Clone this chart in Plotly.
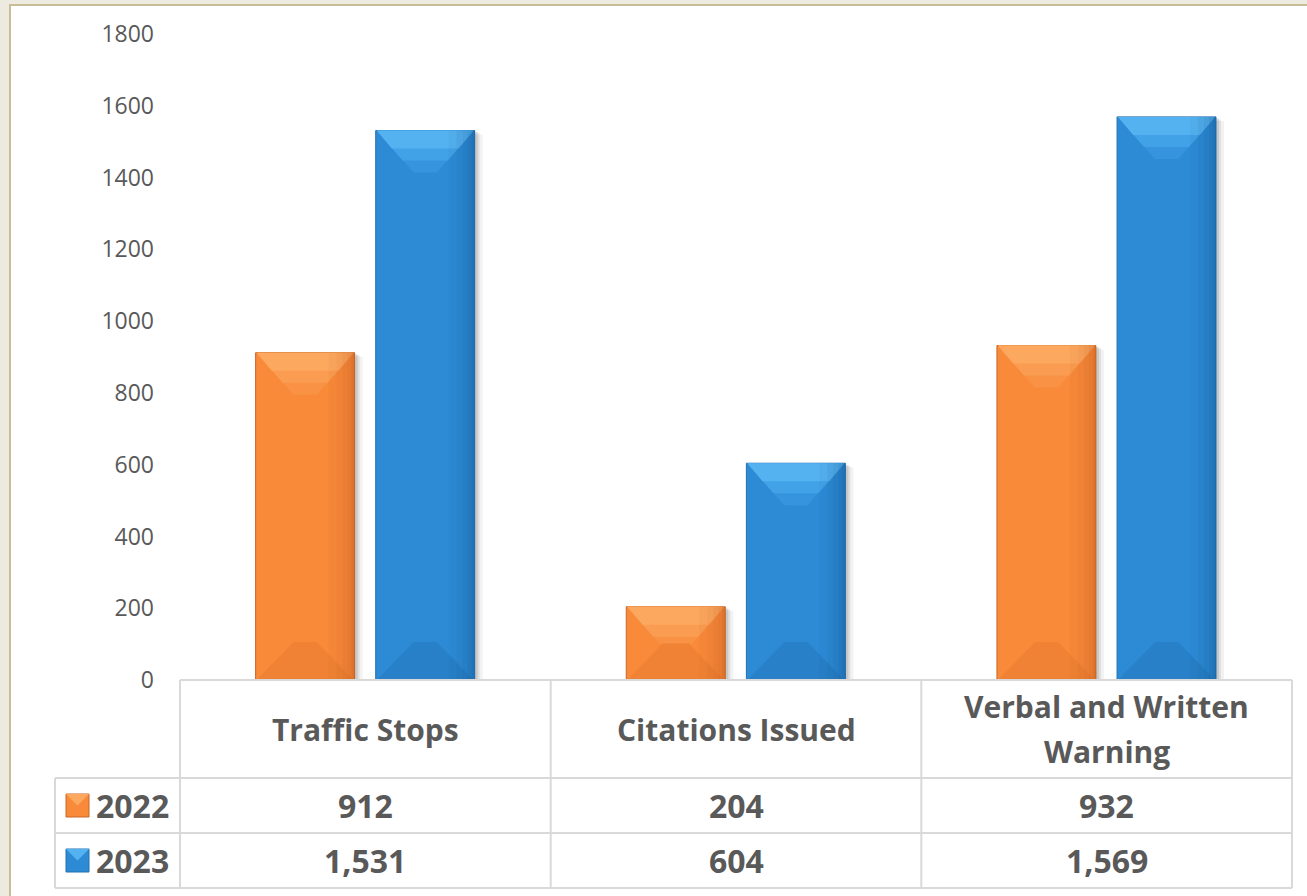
import plotly.graph_objects as go

# ---------------- data ----------------
categories = ["Traffic Stops", "Citations Issued", "Verbal and Written Warning"]
category_labels = ["Traffic Stops", "Citations Issued", "Verbal and Written<br>Warning"]
years = ["2022", "2023"]
values_2022 = [912, 204, 932]
values_2023 = [1531, 604, 1569]
value_labels_2022 = ["912", "204", "932"]
value_labels_2023 = ["1,531", "604", "1,569"]
y_ticks = [0, 200, 400, 600, 800, 1000, 1200, 1400, 1600, 1800]

# ---------------- layout geometry ----------------
W, H = 1307, 896
ML, MR, MT, MB = 180, 15, 34, 216
PW, PH = W - ML - MR, H - MT - MB
YMAX = 1800
CAT_PX = PW / len(categories)


def px_x(p):
    return (p - ML) / PW


def px_y(p):
    return (H - MB - p) / PH


TXT = "#595959"
GRID = "#D9D9D9"
FONT = "Open Sans"

series = [
    dict(name=years[0], values=values_2022, labels=value_labels_2022,
         base="#F88A3A", tops=["#F9924574", "#FA9C51", "#FCA85F"], bottom="#EF8234",
         dark="#B85A1A", line="#C8662A", offset=-0.296),
    dict(name=years[1], values=values_2023, labels=value_labels_2023,
         base="#2D8BD6", tops=["#3594DD", "#42A2E8", "#55B2F1"], bottom="#2880C8",
         dark="#154F85", line="#2270B0", offset=0.028),
]
BW = 0.267

fig = go.Figure()
for s in series:
    fig.add_trace(go.Bar(
        x=categories, y=s["values"], name=s["name"],
        width=BW, offset=s["offset"],
        marker=dict(color=s["base"], line=dict(color=s["line"], width=1)),
        showlegend=False, hoverinfo="x+y+name",
    ))

shapes = []
# white panel with tan border
shapes.append(dict(type="rect", xref="paper", yref="paper",
                   x0=px_x(10), x1=px_x(W + 20), y0=px_y(H + 20), y1=px_y(5),
                   fillcolor="white", line=dict(color="#C8BE96", width=2), layer="below"))

hw = BW * CAT_PX / 2
for s in series:
    for i, v in enumerate(s["values"]):
        xc = i + s["offset"] + BW / 2
        h = v * PH / YMAX
        common = dict(type="path", xref="x", yref="y", xsizemode="pixel", ysizemode="pixel",
                      xanchor=xc, line=dict(width=0))
        # soft shadow
        for off, op in [(8, 0.05), (5, 0.08), (3, 0.1)]:
            shapes.append(dict(common, yanchor=0, layer="below",
                               path=f"M {-hw+off},{-2} L {hw+off},{-2} L {hw+off},{h-off/2} L {-hw+off},{h-off/2} Z",
                               fillcolor=f"rgba(0,0,0,{op})"))
        # top bevel (three tones for gradient)
        for dd, col in zip([42, 30, 18], s["tops"]):
            dd = min(dd, h / 2)
            k = dd * 0.9
            shapes.append(dict(common, yanchor=v, layer="above",
                               path=f"M {-hw+1},0 L {hw-1},0 L {hw-k},{-dd} L {-hw+k},{-dd} Z",
                               fillcolor=col[:7]))
        # bottom bevel
        d = min(38, h / 2)
        shapes.append(dict(common, yanchor=0, layer="above",
                           path=f"M {-hw+1},0 L {hw-1},0 L {hw-d},{d} L {-hw+d},{d} Z",
                           fillcolor=s["bottom"]))
        # right edge darkening (gradient steps)
        for wdt, op in [(26, 0.06), (18, 0.07), (12, 0.08), (7, 0.1), (3, 0.15)]:
            shapes.append(dict(common, yanchor=0, layer="above",
                               path=f"M {hw-wdt},0 L {hw},0 L {hw},{h} L {hw-wdt},{h} Z",
                               fillcolor=s["dark"], opacity=op))

# data table grid
col_edges = [ML + k * CAT_PX for k in range(len(categories) + 1)]
ROW_TOP, ROW1, ROW2, ROW_BOT = 680, 778, 833, 888
LEFT = 55


def hline(y, x0, x1):
    shapes.append(dict(type="line", xref="paper", yref="paper",
                       x0=px_x(x0), x1=px_x(x1), y0=px_y(y), y1=px_y(y),
                       line=dict(color=GRID, width=2), layer="above"))


def vline(x, y0, y1):
    shapes.append(dict(type="line", xref="paper", yref="paper",
                       x0=px_x(x), x1=px_x(x), y0=px_y(y0), y1=px_y(y1),
                       line=dict(color=GRID, width=2), layer="above"))


hline(ROW_TOP, col_edges[0], col_edges[-1])
for y in (ROW1, ROW2, ROW_BOT):
    hline(y, LEFT, col_edges[-1])
for x in col_edges:
    vline(x, ROW_TOP, ROW_BOT)
vline(LEFT, ROW1, ROW_BOT)

annotations = []
bold = dict(family=FONT, size=30, color=TXT, weight="bold")
bold_num = dict(family=FONT, size=32, color=TXT, weight="bold")
LINE_GAP = 45
for i, lab in enumerate(category_labels):
    lines = lab.split("<br>")
    n = len(lines)
    for j, ln in enumerate(lines):
        yc = (ROW_TOP + ROW1) / 2 + (j - (n - 1) / 2) * LINE_GAP
        annotations.append(dict(x=i, xref="x", y=px_y(yc), yref="paper",
                                text=ln, showarrow=False, font=bold, align="center",
                                xanchor="center", yanchor="middle"))
row_centers = [(ROW1 + ROW2) / 2, (ROW2 + ROW_BOT) / 2]
for s, yc in zip(series, row_centers):
    for i, lab in enumerate(s["labels"]):
        annotations.append(dict(x=i, xref="x", y=px_y(yc), yref="paper",
                                text=lab, showarrow=False, font=bold_num,
                                xanchor="center", yanchor="middle"))
    annotations.append(dict(x=px_x(94), xref="paper", y=px_y(yc), yref="paper",
                            text=s["name"], showarrow=False, font=bold_num,
                            xanchor="left", yanchor="middle"))
    # legend key
    k0, k1 = 66, 89
    shapes.append(dict(type="rect", xref="paper", yref="paper",
                       x0=px_x(k0), x1=px_x(k1), y0=px_y(yc + 11.5), y1=px_y(yc - 11.5),
                       fillcolor=s["base"], line=dict(color=s["line"], width=1), layer="above"))
    shapes.append(dict(type="path", xref="paper", yref="paper",
                       path=(f"M {px_x(k0)},{px_y(yc - 11.5)} L {px_x(k1)},{px_y(yc - 11.5)} "
                             f"L {px_x((k0 + k1) / 2)},{px_y(yc)} Z"),
                       fillcolor=s["tops"][-1], line=dict(width=0), layer="above"))

fig.update_layout(
    width=W, height=H,
    margin=dict(l=ML, r=MR, t=MT, b=MB, pad=0),
    paper_bgcolor="#EDEAE0",
    plot_bgcolor="rgba(0,0,0,0)",
    barmode="overlay",
    shapes=shapes,
    annotations=annotations,
    showlegend=False,
    xaxis=dict(range=[-0.5, len(categories) - 0.5], showticklabels=False, showgrid=False,
               zeroline=False, showline=False, ticks="", fixedrange=True),
    yaxis=dict(range=[0, YMAX], tickvals=y_ticks, showgrid=False, zeroline=False,
               showline=False, ticks="", ticklabelstandoff=25,
               tickfont=dict(family=FONT, size=23, color=TXT), fixedrange=True),
    font=dict(family=FONT),
)

fig.write_html("out.html", config={"displayModeBar": False},
               post_script="document.body.style.margin='0';document.body.style.overflow='hidden';")
